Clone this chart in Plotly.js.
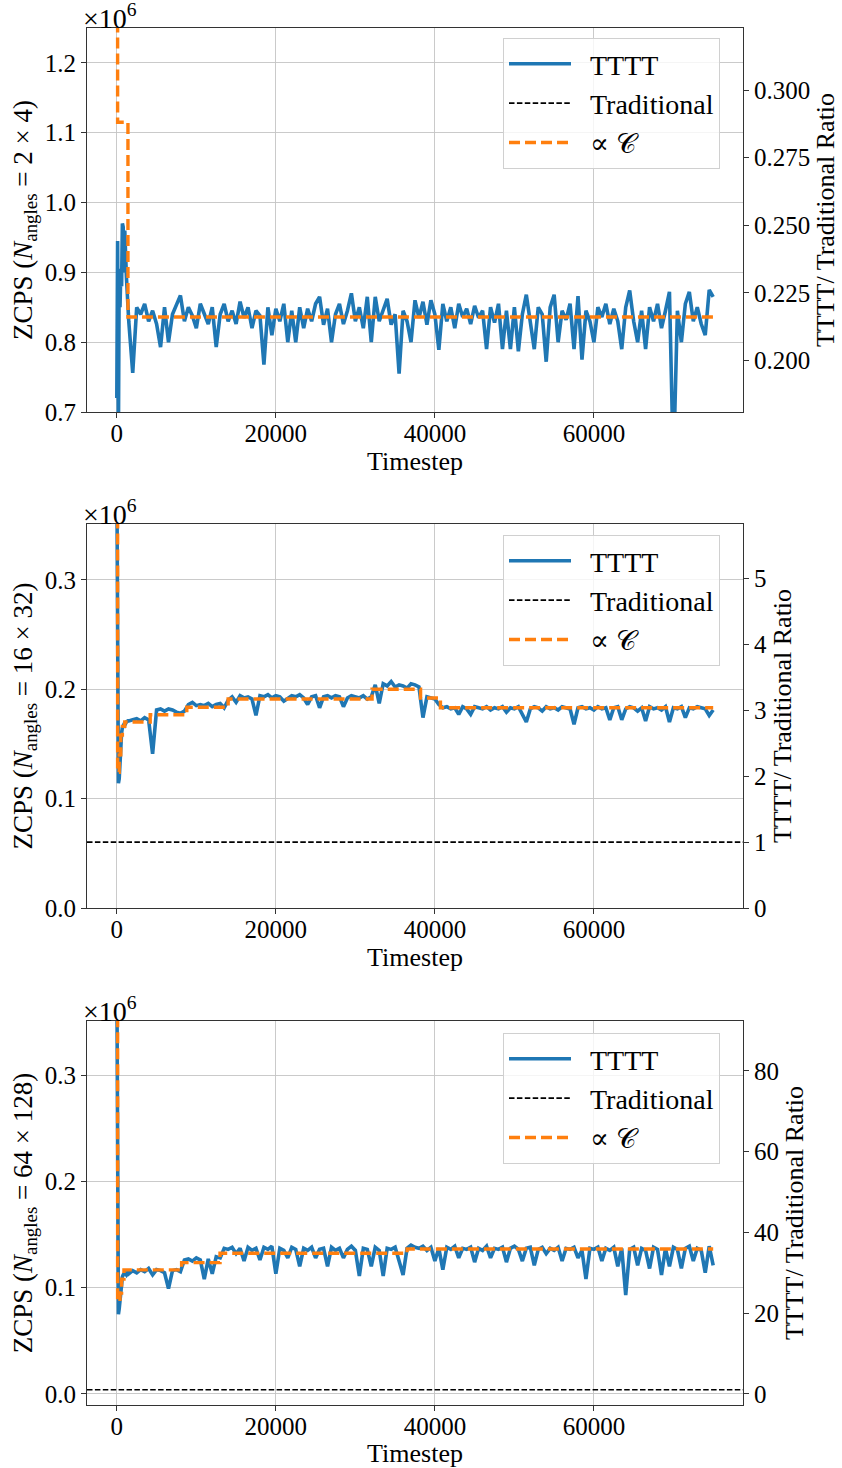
<!DOCTYPE html>
<html><head><meta charset="utf-8">
<script src="https://cdn.plot.ly/plotly-3.0.1.min.js"></script>
<style>body{margin:0;background:#fff}#chart{width:842px;height:1468px}</style>
</head><body><div id="chart"></div>
<script>
const timesteps = [0,100,200,300,400,500,600,700,800,900,1000,1200,1400,
1500,2000,2500,3000,3500,4000,4500,5000,5500,6000,
6500,7000,7500,8000,8500,9000,9500,10000,10500,11000,
11500,12000,12500,13000,13500,14000,14500,15000,15500,16000,
16500,17000,17500,18000,18500,19000,19500,20000,20500,21000,
21500,22000,22500,23000,23500,24000,24500,25000,25500,26000,
26500,27000,27500,28000,28500,29000,29500,30000,30500,31000,
31500,32000,32500,33000,33500,34000,34500,35000,35500,36000,
36500,37000,37500,38000,38500,39000,39500,40000,40500,41000,
41500,42000,42500,43000,43500,44000,44500,45000,45500,46000,
46500,47000,47500,48000,48500,49000,49500,50000,50500,51000,
51500,52000,52500,53000,53500,54000,54500,55000,55500,56000,
56500,57000,57500,58000,58500,59000,59500,60000,60500,61000,
61500,62000,62500,63000,63500,64000,64500,65000,65500,66000,
66500,67000,67500,68000,68500,69000,69500,70000,70500,71000,
71500,72000,72500,73000,73500,74000,74500,75000];

const zcps2x4 = [0.72,0.945,0.66,0.905,0.85,0.90,0.88,0.97,0.965,0.90,0.96,0.895,0.845,
0.83,0.756,0.85,0.84,0.855,0.83,0.845,0.826,0.793,0.85,
0.80,0.84,0.855,0.867,0.83,0.85,0.838,0.82,0.855,0.84,
0.826,0.85,0.793,0.84,0.855,0.83,0.845,0.826,0.858,0.835,
0.85,0.82,0.845,0.838,0.768,0.85,0.81,0.848,0.83,0.855,
0.80,0.845,0.80,0.85,0.82,0.848,0.83,0.855,0.865,0.825,
0.848,0.80,0.84,0.855,0.826,0.845,0.87,0.83,0.85,0.82,
0.865,0.80,0.865,0.83,0.848,0.862,0.825,0.84,0.755,0.845,
0.83,0.80,0.86,0.835,0.858,0.825,0.86,0.84,0.789,0.855,
0.83,0.85,0.82,0.855,0.836,0.848,0.826,0.852,0.835,0.845,
0.79,0.85,0.828,0.855,0.79,0.845,0.79,0.85,0.787,0.84,
0.868,0.83,0.79,0.85,0.84,0.772,0.85,0.868,0.80,0.845,
0.832,0.855,0.79,0.866,0.775,0.845,0.83,0.80,0.85,0.836,
0.855,0.826,0.848,0.83,0.79,0.85,0.874,0.83,0.80,0.845,
0.79,0.85,0.83,0.855,0.82,0.845,0.872,0.62,0.845,0.80,
0.855,0.872,0.83,0.85,0.826,0.81,0.875,0.865];

const zcps16x32 = [0.40,0.125,0.114,0.118,0.135,0.150,0.160,0.165,0.166,0.168,0.167,0.170,0.171,
0.171,0.172,0.173,0.171,0.174,0.172,0.141,0.181,0.182,0.180,
0.182,0.181,0.179,0.178,0.180,0.186,0.188,0.185,0.186,0.185,
0.187,0.184,0.186,0.187,0.183,0.190,0.193,0.188,0.194,0.192,
0.193,0.191,0.176,0.194,0.193,0.195,0.192,0.194,0.193,0.189,
0.192,0.194,0.193,0.195,0.192,0.186,0.193,0.194,0.183,0.193,
0.194,0.192,0.194,0.193,0.184,0.192,0.194,0.193,0.192,0.194,
0.191,0.193,0.204,0.187,0.205,0.203,0.207,0.202,0.204,0.203,
0.201,0.205,0.204,0.202,0.174,0.193,0.192,0.191,0.186,0.183,
0.184,0.182,0.183,0.177,0.184,0.182,0.177,0.184,0.183,0.182,
0.184,0.181,0.183,0.182,0.184,0.179,0.183,0.182,0.184,0.176,
0.170,0.182,0.184,0.183,0.180,0.184,0.182,0.183,0.181,0.184,
0.183,0.182,0.168,0.183,0.184,0.182,0.183,0.181,0.184,0.182,
0.183,0.172,0.183,0.184,0.172,0.182,0.184,0.183,0.180,0.183,
0.171,0.184,0.182,0.183,0.181,0.184,0.170,0.183,0.182,0.184,
0.174,0.183,0.182,0.184,0.183,0.182,0.176,0.181];

const zcps64x128 = [0.40,0.085,0.075,0.080,0.090,0.100,0.108,0.110,0.112,0.113,0.114,0.112,0.115,
0.113,0.116,0.114,0.117,0.115,0.118,0.112,0.117,0.116,0.114,
0.099,0.116,0.117,0.115,0.126,0.127,0.125,0.128,0.126,0.108,
0.127,0.113,0.129,0.128,0.137,0.136,0.138,0.132,0.137,0.125,
0.138,0.135,0.137,0.126,0.138,0.136,0.139,0.113,0.137,0.135,
0.128,0.138,0.136,0.12,0.137,0.135,0.138,0.128,0.136,0.137,
0.12,0.138,0.135,0.137,0.128,0.136,0.139,0.135,0.111,0.137,
0.136,0.12,0.138,0.135,0.111,0.137,0.136,0.138,0.125,0.112,
0.137,0.140,0.138,0.137,0.139,0.135,0.138,0.125,0.137,0.117,
0.138,0.136,0.139,0.128,0.137,0.136,0.138,0.124,0.137,0.135,
0.139,0.128,0.137,0.136,0.138,0.124,0.137,0.139,0.136,0.125,
0.137,0.138,0.121,0.136,0.138,0.132,0.137,0.135,0.138,0.125,
0.137,0.136,0.138,0.128,0.135,0.108,0.137,0.136,0.138,0.125,
0.137,0.135,0.138,0.12,0.137,0.093,0.136,0.138,0.121,0.137,
0.135,0.118,0.138,0.136,0.112,0.137,0.12,0.138,0.136,0.118,
0.137,0.139,0.125,0.137,0.135,0.114,0.139,0.121];

// ∝C model (step function)
const propCSteps2x4 = [0,100,1400,75000];
const propC2x4 = [1.35,1.115,0.836,0.836];
const propCSteps16x32 = [0,100,300,500,700,1000,4200,8800,14000,32100,38200,40700,75000];
const propC16x32 = [0.40,0.124,0.140,0.158,0.166,0.170,0.1766,0.1835,0.191,0.200,0.192,0.183,0.183];
const propCSteps64x128 = [0,100,400,600,900,8150,12980,36500,75000];
const propC64x128 = [0.40,0.087,0.095,0.108,0.1167,0.1235,0.1323,0.1364,0.1364];

// Traditional ZCPS (x10^6)
const traditional = [3.87, 0.0602, 0.0038];

const angleLabels = ['2 × 4','16 × 32','64 × 128'];
const legendNames = ['\u2002TTTT', '\u2002Traditional', '\u2002∝ 𝒞'];
const leftRanges = [[0.7,1.25],[0,0.351],[-0.0105,0.351]];
const leftTicks = [[0.7,0.8,0.9,1.0,1.1,1.2],[0,0.1,0.2,0.3],[0,0.1,0.2,0.3]];
const rightTicks = [[0.2,0.225,0.25,0.275,0.3],[0,1,2,3,4,5],[0,20,40,60,80]];
const rightFormats = ['.3f','d','d'];
const xTicks = [0,20000,40000,60000];
const xRange = [-3750,78750];

const seriesY = [zcps2x4, zcps16x32, zcps64x128];
const stepX = [propCSteps2x4, propCSteps16x32, propCSteps64x128];
const stepY = [propC2x4, propC16x32, propC64x128];

const FONT = 'Liberation Serif, DejaVu Serif, serif';
const H = 1468;
const pix = [[28,412],[524,908],[1021,1405]];
const legendTop = [38,535,1033];

const data = [];
const layout = {
  width: 842, height: 1468,
  margin: {l: 87, r: 99, t: 0, b: 0},
  paper_bgcolor: '#fff', plot_bgcolor: '#fff',
  font: {family: FONT, size: 24, color: '#000'},
  annotations: []
};

for (let i = 0; i < 3; i++) {
  const xs = i === 0 ? 'x' : 'x' + (i + 1);
  const yl = i === 0 ? 'y' : 'y' + (2 * i + 1);
  const yr = 'y' + (2 * i + 2);
  const xk = i === 0 ? 'xaxis' : 'xaxis' + (i + 1);
  const ylk = i === 0 ? 'yaxis' : 'yaxis' + (2 * i + 1);
  const yrk = 'yaxis' + (2 * i + 2);
  const lg = i === 0 ? 'legend' : 'legend' + (i + 1);
  const dom = [1 - pix[i][1] / H, 1 - pix[i][0] / H];

  data.push({x: timesteps, y: seriesY[i], xaxis: xs, yaxis: yl, type: 'scatter', mode: 'lines',
    name: legendNames[0], legend: lg, line: {color: '#1f77b4', width: 3.6}, hoverinfo: 'skip'});
  data.push({x: xRange, y: [traditional[i], traditional[i]], xaxis: xs, yaxis: yl, type: 'scatter', mode: 'lines',
    name: legendNames[1], legend: lg, line: {color: '#000', width: 1.6, dash: '5.5px,2.4px'}, hoverinfo: 'skip'});
  data.push({x: stepX[i], y: stepY[i], xaxis: xs, yaxis: yl, type: 'scatter', mode: 'lines',
    name: legendNames[2], legend: lg, line: {color: '#ff7f0e', width: 3.4, dash: '11px,5px', shape: 'hv'}, hoverinfo: 'skip'});
  const rr = [leftRanges[i][0] / traditional[i], leftRanges[i][1] / traditional[i]];
  data.push({x: xRange, y: rr, xaxis: xs, yaxis: yr, type: 'scatter', mode: 'none', showlegend: false, hoverinfo: 'skip'});

  layout[xk] = {
    domain: [0, 1], anchor: yl, range: xRange, tickvals: xTicks, tickformat: 'd',
    showline: true, mirror: true, linecolor: '#333', linewidth: 1,
    ticks: 'outside', ticklen: 5, tickcolor: '#333', ticklabelstandoff: -6,
    showgrid: true, gridcolor: '#c4c4c4', gridwidth: 0.9, zeroline: false,
    tickfont: {family: FONT, size: 25},
    title: {text: 'Timestep', font: {family: FONT, size: 26}, standoff: 2}
  };
  layout[ylk] = {
    domain: dom, anchor: xs, range: leftRanges[i], tickvals: leftTicks[i], tickformat: '.1f',
    showline: true, linecolor: '#333', linewidth: 1,
    ticks: 'outside', ticklen: 5, tickcolor: '#333',
    showgrid: true, gridcolor: '#c4c4c4', gridwidth: 0.9, zeroline: false,
    tickfont: {family: FONT, size: 25},
    title: {text: 'ZCPS (<i>N</i><sub>angles</sub> = ' + angleLabels[i] + ')', font: {family: FONT, size: 27}, standoff: 4}
  };
  layout[yrk] = {
    overlaying: yl, side: 'right', anchor: xs, range: rr, tickvals: rightTicks[i], tickformat: rightFormats[i],
    showline: true, linecolor: '#333', linewidth: 1,
    ticks: 'outside', ticklen: 5, tickcolor: '#333',
    showgrid: false, zeroline: false,
    tickfont: {family: FONT, size: 25},
    title: {text: 'TTTT/ Traditional Ratio', font: {family: FONT, size: 26}, standoff: 6}
  };
  layout[lg] = {
    x: (503 - 87) / 656, y: 1 - legendTop[i] / H, xanchor: 'left', yanchor: 'top',
    bgcolor: 'rgba(255,255,255,0.8)', bordercolor: '#d0d0d0', borderwidth: 1,
    font: {family: FONT, size: 28}, itemwidth: 62, tracegroupgap: 0
  };
  layout.annotations.push({
    xref: xs + ' domain', yref: yl + ' domain', x: 0, y: 1, xanchor: 'left', yanchor: 'bottom',
    xshift: -6, yshift: -8, showarrow: false, text: '×10<sup>6</sup>',
    font: {family: FONT, size: 28}
  });
}

Plotly.newPlot('chart', data, layout, {staticPlot: true, displayModeBar: false});
</script></body></html>
